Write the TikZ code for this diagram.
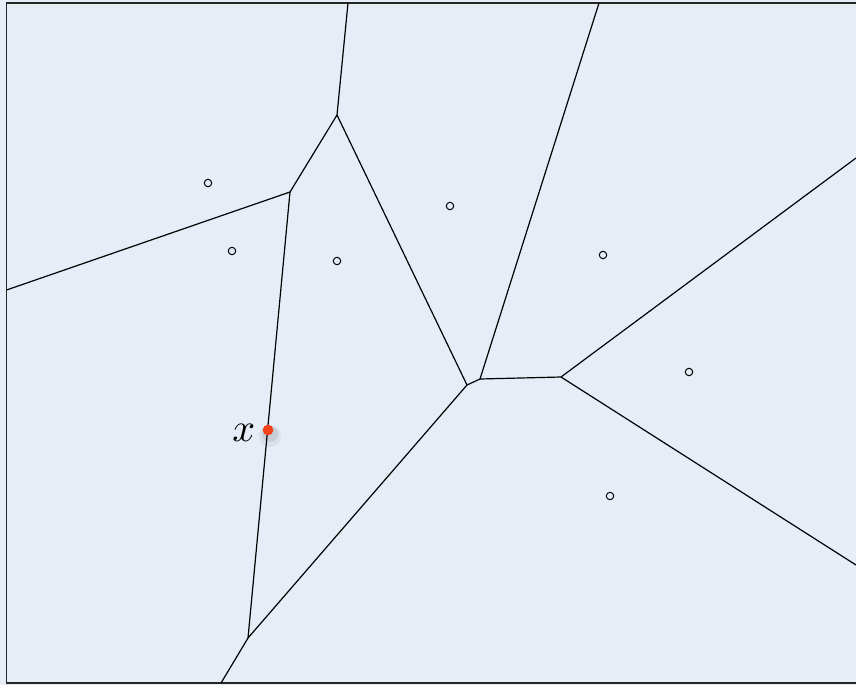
\documentclass[tikz,border=0pt]{standalone}
\usepackage{xcolor}
\usepackage{tikz}

\definecolor{paper}{HTML}{E6EDF6}
\definecolor{pointred}{HTML}{F2401A}

\begin{document}
\begin{tikzpicture}[x=0.75pt, y=-0.75pt,
    site/.style={circle, draw, line width=0.75pt, inner sep=0pt, minimum size=5.6pt},
    cell/.style={line width=0.9pt, black}]
    % Page and frame
    \useasboundingbox (0,0) rectangle (856,685);
    \fill[paper] (0,0) rectangle (856,685);
    \draw[line width=1.1pt, black!85] (856,3) -- (6.5,3) -- (6.5,683) -- (856,683);

    % Voronoi vertices
    \coordinate (vA) at (290,192);
    \coordinate (vB) at (337,115);
    \coordinate (vC) at (467,385);
    \coordinate (vD) at (248,638);
    \coordinate (vE) at (480,379);
    \coordinate (vF) at (561,377);
    % Where the cells run out of the frame
    \coordinate (left) at (6.5,290);
    \coordinate (top1) at (348,3);
    \coordinate (top2) at (599,3);
    \coordinate (right1) at (856,158);
    \coordinate (right2) at (856,565);
    \coordinate (bottom) at (221,683);

    % Cell edges
    \draw[cell] (left) -- (vA) -- (vB) -- (top1);
    \draw[cell] (vB) -- (vC) -- (vE) -- (top2);
    \draw[cell] (vA) -- (vD) -- (bottom);
    \draw[cell] (vC) -- (vD);
    \draw[cell] (vE) -- (vF) -- (right1);
    \draw[cell] (vF) -- (right2);

    % Sites
    \node[site] (s1) at (208,183) {};
    \node[site] (s2) at (232,251) {};
    \node[site] (s3) at (337,261) {};
    \node[site] (s4) at (450,206) {};
    \node[site] (s5) at (603,255) {};
    \node[site] (s6) at (689,372) {};
    \node[site] (s7) at (610,496) {};

    % Query point on the edge
    \fill[black, opacity=0.08] (270,434) circle (8);
    \fill[black, opacity=0.05] (270,436) circle (11);
    \node[circle, fill=pointred, inner sep=0pt, minimum size=8pt] (x) at (268,430) {};
    \node[anchor=base east, inner sep=0pt, scale=3] (xlabel) at (256,441) {$x$};
\end{tikzpicture}
\end{document}
